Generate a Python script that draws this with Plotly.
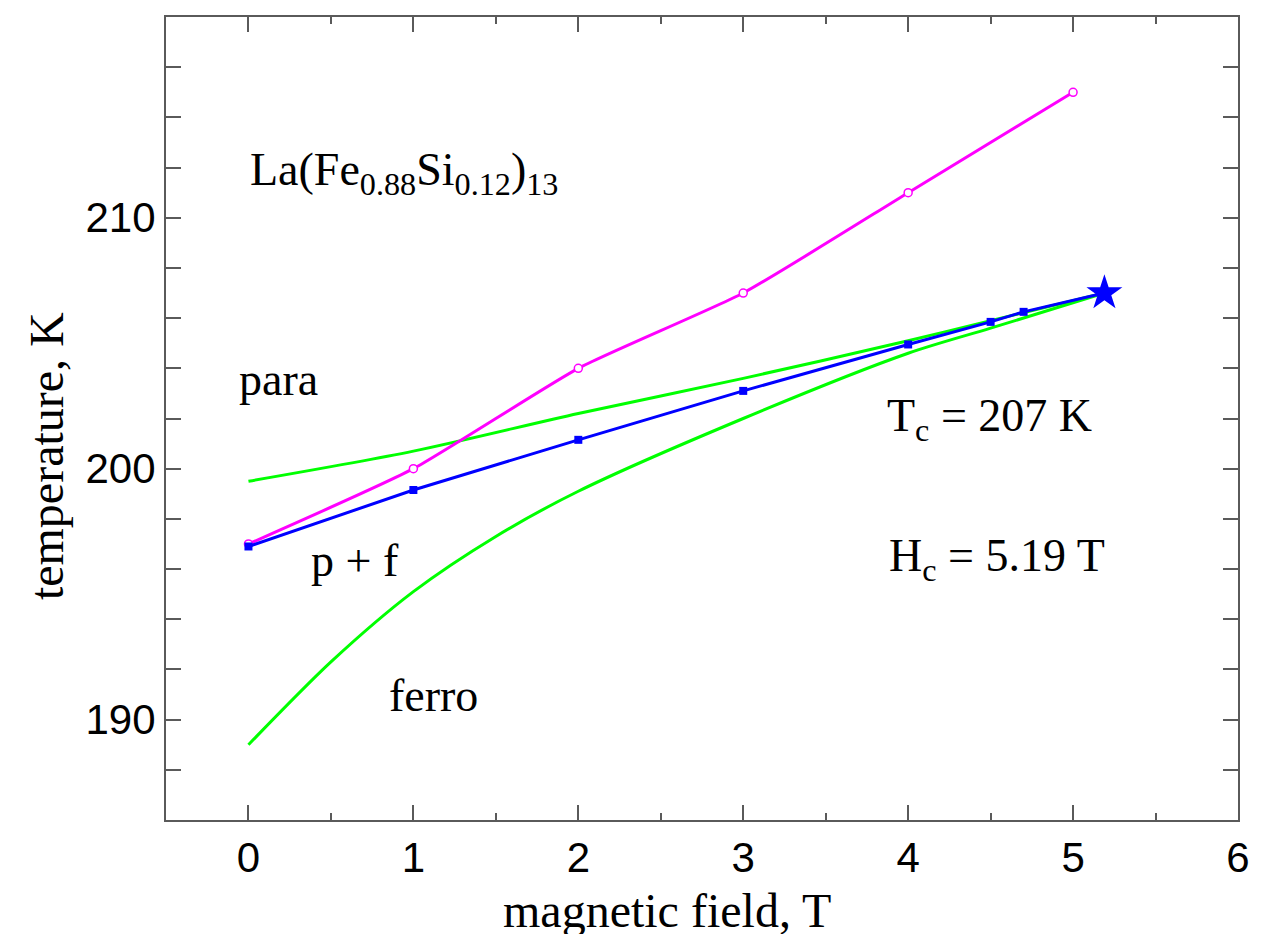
import plotly.graph_objects as go

# --- data ---
field_open = [0, 1, 2, 3, 4, 5]
temp_open = [197.0, 200.0, 204.0, 207.0, 211.0, 215.0]

field_sq = [0, 1, 2, 3, 4, 4.5, 4.7]
temp_sq = [196.9, 199.15, 201.15, 203.1, 204.95, 205.85, 206.25]

field_crit = [5.19]
temp_crit = [207.0]

field_upper = [0, 1, 2, 3, 4, 4.5, 5.19]
temp_upper = [199.5, 200.7, 202.2, 203.6, 205.1, 205.9, 207.0]

field_lower = [0, 0.5, 1, 1.5, 2, 3, 4, 4.5, 5.19]
temp_lower = [189.0, 192.3, 195.1, 197.3, 199.1, 202.0, 204.6, 205.6, 207.0]

SERIF = "Liberation Serif, Times New Roman, serif"
SANS = "Liberation Sans, Arial, sans-serif"
AX = "#5a5a5a"

fig = go.Figure()
fig.add_trace(go.Scatter(x=field_upper, y=temp_upper, mode="lines",
                         line=dict(color="#00ff00", width=3, shape="spline", smoothing=0.8),
                         showlegend=False))
fig.add_trace(go.Scatter(x=field_lower, y=temp_lower, mode="lines",
                         line=dict(color="#00ff00", width=3, shape="spline", smoothing=0.8),
                         showlegend=False))
fig.add_trace(go.Scatter(x=field_open, y=temp_open, mode="lines+markers",
                         line=dict(color="#ff00ff", width=3, shape="spline", smoothing=0.5),
                         marker=dict(symbol="circle", size=8, color="white",
                                     line=dict(color="#ff00ff", width=1.5)),
                         showlegend=False))
fig.add_trace(go.Scatter(x=field_sq + field_crit, y=temp_sq + temp_crit, mode="lines",
                         line=dict(color="#0000ff", width=3),
                         showlegend=False))
fig.add_trace(go.Scatter(x=field_sq, y=temp_sq, mode="markers",
                         marker=dict(symbol="square", size=8, color="#0000ff"),
                         showlegend=False))
fig.add_trace(go.Scatter(x=field_crit, y=temp_crit, mode="markers",
                         marker=dict(symbol="star", size=27, color="#0000ff",
                                     line=dict(width=0)),
                         showlegend=False))

def note(text, x, y, size=46, xanchor="left"):
    fig.add_annotation(text=text, x=x, y=y, xref="x", yref="y", showarrow=False,
                       xanchor=xanchor, yanchor="middle",
                       font=dict(family=SERIF, size=size, color="black"))

note("La(Fe<sub>0.88</sub>Si<sub>0.12</sub>)<sub>13</sub>", 0.0, 211.8)
note("para", -0.07, 203.55)
note("p + f", 0.37, 196.35)
note("ferro", 0.84, 190.95)
note("T<sub>c</sub> = 207 K", 3.86, 202.0)
note("H<sub>c</sub> = 5.19 T", 3.87, 196.4)

fig.add_annotation(text="temperature, K", x=45, y=456, xref="paper", yref="paper",
                   showarrow=False, textangle=-90, xanchor="center", yanchor="middle",
                   font=dict(family=SERIF, size=48, color="black"))
fig.add_annotation(text="magnetic field, T", x=672, y=910, xref="paper", yref="paper",
                   showarrow=False, xanchor="center", yanchor="middle",
                   font=dict(family=SERIF, size=48, color="black"))

# convert the two axis-title pixel positions to paper coordinates
L, R, T, B = 166, 14, 17, 114
W, H = 1262, 934
pw, ph = W - L - R, H - T - B
for a in fig.layout.annotations[-2:]:
    a.x = (a.x - L) / pw
    a.y = (H - B - a.y) / ph

fig.update_xaxes(range=[-0.5, 6], tick0=0, dtick=1, ticks="inside", ticklen=15,
                 tickwidth=1.5, tickcolor=AX, showline=True, linecolor=AX, linewidth=2,
                 mirror="ticks", showgrid=False, zeroline=False,
                 tickfont=dict(family=SANS, size=42, color="black"),
                 minor=dict(dtick=0.5, ticks="inside", ticklen=7, tickcolor=AX, tickwidth=1.5,
                            showgrid=False))
fig.update_yaxes(range=[186, 218], tick0=190, dtick=10, ticks="inside", ticklen=15,
                 tickwidth=1.5, tickcolor=AX, showline=True, linecolor=AX, linewidth=2,
                 mirror="ticks", showgrid=False, zeroline=False,
                 tickfont=dict(family=SANS, size=42, color="black"),
                 minor=dict(dtick=2, tick0=186, ticks="inside", ticklen=15, tickcolor=AX,
                            tickwidth=1.5, showgrid=False))

fig.update_layout(width=W, height=H, margin=dict(l=L, r=R, t=T, b=B),
                  plot_bgcolor="white", paper_bgcolor="white")

fig.write_html("out.html")
